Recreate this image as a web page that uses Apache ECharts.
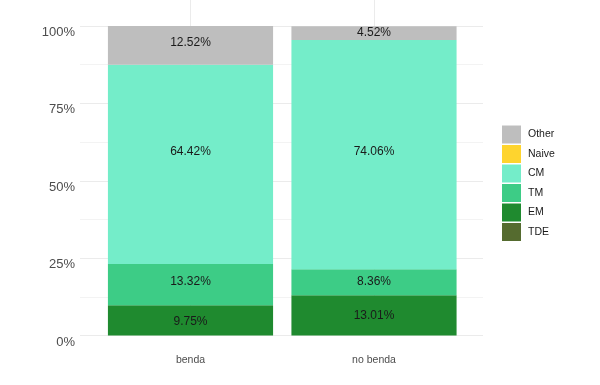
<!DOCTYPE html>
<html>
<head>
<meta charset="utf-8">
<script src="https://cdn.jsdelivr.net/npm/echarts@6/dist/echarts.min.js"></script>
<style>html,body{margin:0;padding:0;background:#fff;}#c{width:600px;height:385px;}</style>
</head>
<body>
<div id="c"></div>
<script>
const categories = ['benda', 'no benda'];
const TDE = [0, 0];
const EM = [9.75, 13.01];
const TM = [13.32, 8.36];
const CM = [64.42, 74.06];
const Naive = [0, 0];
const Other = [12.52, 4.52];
const yTicks = [0, 25, 50, 75, 100];

const seriesDefs = [
  ['TDE', TDE, '#556b2f'],
  ['EM', EM, '#1f8a2f'],
  ['TM', TM, '#3dcc86'],
  ['CM', CM, '#74edc9'],
  ['Naive', Naive, '#fed42e'],
  ['Other', Other, '#bebebe']
];
// label nudges (style only), per series per category, in px
const labelNudge = {TM: [-3, -1], CM: [-13, -3], Other: [-3, 0], EM: [1, 0]};
const FONT = 'Liberation Sans, Arial, sans-serif';

const chart = echarts.init(document.getElementById('c'), null, {renderer: 'canvas'});
chart.setOption({
  animation: false,
  backgroundColor: '#ffffff',
  grid: [
    {left: 80, right: 117, top: 26, bottom: 49.5},
    {left: 98.75, right: 134.25, top: 10.5, bottom: 34}
  ],
  xAxis: [
    {gridIndex: 0, type: 'value', min: 0, max: 1, show: false},
    {gridIndex: 1, type: 'category', data: categories,
     axisLine: {show: false},
     axisTick: {show: true, inside: true, alignWithLabel: true, length: 340.5, lineStyle: {color: '#ebebeb', width: 1}},
     axisLabel: {margin: 3.5, fontSize: 10.5, color: '#4d4d4d', fontFamily: FONT},
     splitLine: {show: false}}
  ],
  yAxis: [
    {gridIndex: 0, type: 'value', min: yTicks[0], max: yTicks[yTicks.length - 1], interval: yTicks[1] - yTicks[0],
     axisLine: {show: false}, axisTick: {show: false},
     axisLabel: {formatter: '{value}%', fontSize: 13, color: '#4d4d4d', fontFamily: FONT, margin: 5, verticalAlign: 'top'},
     splitLine: {show: true, lineStyle: {color: '#ebebeb', width: 1}},
     minorTick: {show: false, splitNumber: 2},
     minorSplitLine: {show: true, lineStyle: {color: '#f3f3f3', width: 1}}},
    {gridIndex: 1, type: 'value', min: -5, max: 105, show: false}
  ],
  legend: {
    orient: 'vertical', left: 502, top: 125.5, padding: 0,
    itemWidth: 19, itemHeight: 18, itemGap: 1.5,
    icon: 'rect',
    data: seriesDefs.map(d => d[0]).slice().reverse(),
    textStyle: {fontSize: 10.5, color: '#1a1a1a', fontFamily: FONT, padding: [0, 0, 0, 2]}
  },
  series: seriesDefs.map(([name, vals, color]) => ({
    name: name, type: 'bar', stack: 'total', xAxisIndex: 1, yAxisIndex: 1,
    barWidth: '90%',
    itemStyle: {color: color},
    label: {
      show: true, position: 'inside', fontSize: 12, color: '#1a1a1a', fontFamily: FONT,
      formatter: p => p.value > 0 ? p.value.toFixed(2) + '%' : ''
    },
    data: vals.map((v, i) => ({
      value: v,
      label: {offset: [0, labelNudge[name] ? labelNudge[name][i] : 0]}
    }))
  }))
});
</script>
</body>
</html>
